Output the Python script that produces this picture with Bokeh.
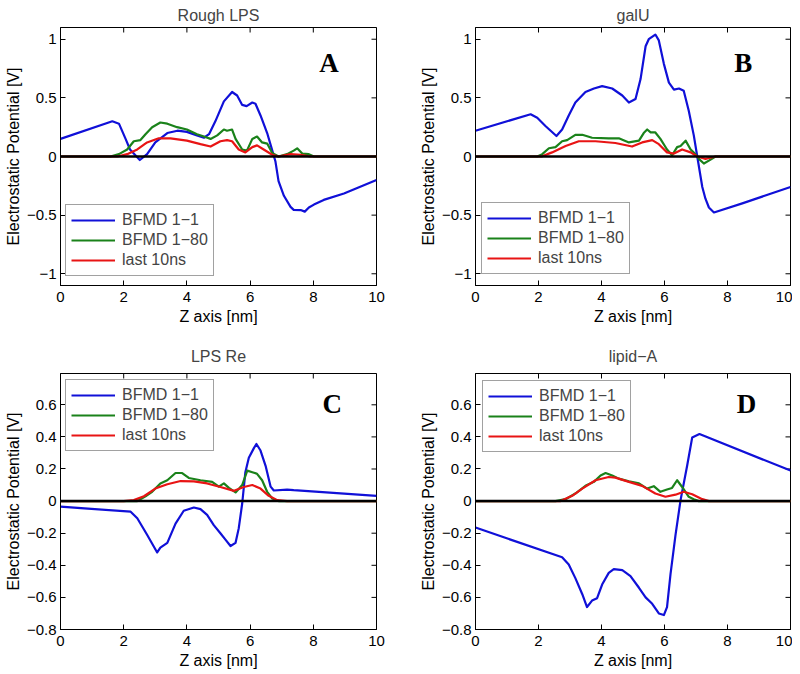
from bokeh.plotting import figure
from bokeh.models import (Range1d, FixedTicker, Span, Legend, LegendItem, Label)
from bokeh.layouts import column, row
from bokeh.embed import file_html
from bokeh.resources import INLINE

# ---------------- data ----------------
titles = ["Rough LPS", "galU", "LPS Re", "lipid\u2212A"]
letters = ["A", "B", "C", "D"]
series_names = ["BFMD 1\u22121", "BFMD 1\u221280", "last 10ns"]
x_ticks = [0, 2, 4, 6, 8, 10]
y_ticks_top = [-1, -0.5, 0, 0.5, 1]
y_ticks_bottom = [-0.8, -0.6, -0.4, -0.2, 0, 0.2, 0.4, 0.6]

# Panel A : Rough LPS
A_blue_x = [0, 1.64, 1.85, 2.06, 2.2, 2.51, 2.74, 3.0, 3.38, 3.7, 4.0, 4.32, 4.54, 4.7, 4.9, 5.17, 5.43, 5.59, 5.75, 5.89, 6.07, 6.17, 6.33, 6.54, 6.67, 6.8, 6.9, 7.07, 7.28, 7.38, 7.6, 7.73, 7.86, 8.02, 8.33, 8.97, 10]
A_blue_y = [0.15, 0.30, 0.28, 0.15, 0.06, -0.03, 0.02, 0.12, 0.20, 0.22, 0.21, 0.18, 0.16, 0.19, 0.30, 0.47, 0.55, 0.52, 0.44, 0.43, 0.46, 0.45, 0.35, 0.20, 0.08, -0.04, -0.21, -0.335, -0.43, -0.455, -0.457, -0.47, -0.435, -0.41, -0.37, -0.315, -0.20]
A_green_x = [0, 1.58, 1.85, 2.11, 2.32, 2.53, 2.69, 2.9, 3.16, 3.38, 3.69, 4.0, 4.32, 4.54, 4.75, 4.96, 5.17, 5.27, 5.43, 5.54, 5.75, 5.9, 6.07, 6.22, 6.38, 6.54, 6.7, 6.9, 7.17, 7.38, 7.49, 7.65, 7.86, 8.02, 10]
A_green_y = [0, 0, 0.02, 0.06, 0.13, 0.14, 0.19, 0.25, 0.29, 0.28, 0.25, 0.23, 0.19, 0.17, 0.15, 0.18, 0.23, 0.22, 0.23, 0.15, 0.06, 0.05, 0.15, 0.17, 0.12, 0.11, 0.03, 0, 0.02, 0.05, 0.07, 0.025, 0.02, 0, 0]
A_red_x = [0, 1.8, 2.11, 2.43, 2.74, 3.11, 3.48, 4.0, 4.43, 4.75, 5.06, 5.27, 5.43, 5.64, 5.85, 6.07, 6.22, 6.43, 6.7, 6.9, 7.28, 7.6, 7.9, 10]
A_red_y = [0, 0, 0.02, 0.06, 0.12, 0.155, 0.155, 0.135, 0.105, 0.085, 0.13, 0.14, 0.13, 0.06, 0.035, 0.08, 0.095, 0.06, 0.015, 0, 0.02, 0.015, 0, 0]

# Panel B : galU
B_blue_x = [0, 1.75, 1.96, 2.22, 2.57, 2.75, 2.96, 3.17, 3.49, 3.76, 4.02, 4.34, 4.66, 4.87, 5.08, 5.24, 5.4, 5.5, 5.71, 5.82, 5.98, 6.14, 6.3, 6.46, 6.61, 6.77, 6.93, 7.04, 7.2, 7.3, 7.41, 7.57, 8.47, 10]
B_blue_y = [0.22, 0.36, 0.33, 0.26, 0.175, 0.23, 0.35, 0.46, 0.55, 0.58, 0.60, 0.58, 0.52, 0.46, 0.49, 0.66, 0.94, 1.00, 1.04, 0.99, 0.79, 0.63, 0.57, 0.58, 0.56, 0.39, 0.18, 0, -0.26, -0.36, -0.435, -0.477, -0.40, -0.26]
B_green_x = [0, 1.96, 2.12, 2.33, 2.54, 2.75, 2.91, 3.17, 3.39, 3.7, 4.23, 4.55, 4.87, 5.19, 5.34, 5.45, 5.56, 5.71, 5.87, 6.08, 6.24, 6.4, 6.51, 6.67, 6.83, 6.98, 7.09, 7.25, 7.41, 7.62, 10]
B_green_y = [0, 0, 0.02, 0.07, 0.08, 0.13, 0.14, 0.185, 0.185, 0.16, 0.155, 0.155, 0.12, 0.135, 0.20, 0.23, 0.205, 0.205, 0.15, 0.06, 0.01, 0.08, 0.09, 0.135, 0.06, 0.02, -0.02, -0.06, -0.035, 0, 0]
B_red_x = [0, 2.1, 2.43, 2.86, 3.28, 3.81, 4.44, 4.97, 5.29, 5.61, 5.82, 6.08, 6.3, 6.56, 6.83, 7.04, 7.3, 7.62, 10]
B_red_y = [0, 0, 0.035, 0.09, 0.13, 0.13, 0.115, 0.085, 0.12, 0.14, 0.105, 0.035, 0.025, 0.06, 0.035, 0, -0.02, 0, 0]

# Panel C : LPS Re
C_blue_x = [0, 2.22, 2.43, 2.74, 3.06, 3.16, 3.38, 3.64, 3.9, 4.22, 4.43, 4.64, 4.85, 5.06, 5.22, 5.38, 5.54, 5.64, 5.75, 5.85, 5.96, 6.12, 6.2, 6.33, 6.49, 6.65, 6.75, 7.17, 7.38, 10]
C_blue_y = [-0.035, -0.066, -0.107, -0.21, -0.32, -0.29, -0.26, -0.14, -0.06, -0.04, -0.05, -0.086, -0.15, -0.2, -0.24, -0.28, -0.26, -0.17, -0.015, 0.18, 0.27, 0.33, 0.356, 0.315, 0.22, 0.09, 0.066, 0.072, 0.068, 0.033]
C_green_x = [0, 2.43, 2.69, 2.9, 3.16, 3.38, 3.64, 3.85, 4.06, 4.43, 4.8, 5.01, 5.17, 5.33, 5.54, 5.75, 5.91, 6.07, 6.22, 6.38, 6.54, 6.7, 6.9, 10]
C_green_y = [0, 0, 0.03, 0.058, 0.11, 0.13, 0.175, 0.175, 0.144, 0.13, 0.12, 0.09, 0.11, 0.082, 0.054, 0.1, 0.19, 0.18, 0.17, 0.13, 0.058, 0.016, 0, 0]
C_red_x = [0, 2.0, 2.32, 2.64, 3.0, 3.38, 3.8, 4.22, 4.64, 5.06, 5.49, 5.8, 6.07, 6.33, 6.59, 6.86, 7.17, 10]
C_red_y = [0, 0, 0.006, 0.03, 0.078, 0.105, 0.125, 0.123, 0.11, 0.088, 0.064, 0.088, 0.1, 0.078, 0.033, 0.006, 0, 0]

# Panel D : lipid-A
D_blue_x = [0, 2.75, 2.96, 3.17, 3.39, 3.54, 3.7, 3.86, 4.02, 4.23, 4.39, 4.66, 4.92, 5.19, 5.4, 5.61, 5.82, 5.98, 6.08, 6.19, 6.35, 6.51, 6.72, 6.88, 7.11, 10]
D_blue_y = [-0.165, -0.35, -0.395, -0.48, -0.58, -0.66, -0.62, -0.605, -0.52, -0.447, -0.424, -0.43, -0.467, -0.54, -0.60, -0.64, -0.70, -0.71, -0.66, -0.457, -0.21, 0.006, 0.222, 0.397, 0.418, 0.19]
D_green_x = [0, 2.54, 2.86, 3.17, 3.49, 3.76, 3.97, 4.13, 4.34, 4.55, 4.87, 5.19, 5.45, 5.66, 5.87, 6.08, 6.24, 6.4, 6.56, 6.77, 6.93, 7.09, 10]
D_green_y = [0, 0, 0.012, 0.047, 0.095, 0.12, 0.16, 0.175, 0.16, 0.14, 0.123, 0.11, 0.078, 0.093, 0.058, 0.072, 0.082, 0.13, 0.088, 0.027, 0.012, 0, 0]
D_red_x = [0, 2.7, 3.07, 3.39, 3.81, 4.23, 4.44, 4.87, 5.29, 5.71, 6.03, 6.35, 6.61, 6.88, 7.2, 7.41, 10]
D_red_y = [0, 0, 0.033, 0.078, 0.13, 0.15, 0.146, 0.12, 0.095, 0.047, 0.027, 0.04, 0.058, 0.043, 0.012, 0, 0]

COLORS = ["#1010d8", "#1a821a", "#e81414"]
SANS = "Liberation Sans"


def fmt(t):
    return ("%g" % t).replace("-", "\u2212")


def style_axis(ax, ticks):
    ax.ticker = FixedTicker(ticks=ticks)
    ax.major_tick_in = 5
    ax.major_tick_out = 0
    ax.minor_tick_line_color = None
    ax.axis_line_color = "black"
    ax.major_tick_line_color = "black"
    ax.major_label_overrides = {float(t): fmt(t) for t in ticks}
    ax.major_label_text_font = SANS
    ax.major_label_text_font_size = "15px"
    ax.major_label_text_color = "black"
    ax.axis_label_text_font = SANS
    ax.axis_label_text_font_size = "16px"
    ax.axis_label_text_font_style = "normal"
    ax.axis_label_text_color = "black"


def panel(idx, data, yr, yticks, letter_pos, legend_loc, w, h, borders, title_standoff):
    bl, br, bt, bb = borders
    p = figure(width=w, height=h, x_range=Range1d(0, 10), y_range=Range1d(*yr),
               output_backend="svg", toolbar_location=None,
               min_border_left=bl, min_border_right=br, min_border_top=bt, min_border_bottom=bb)
    p.title.text = titles[idx]
    p.title.align = "center"
    p.title.text_font = SANS
    p.title.text_font_size = "16px"
    p.title.text_font_style = "normal"
    p.title.standoff = title_standoff
    p.title.text_line_height = 1.0
    p.xgrid.grid_line_color = None
    p.ygrid.grid_line_color = None
    p.outline_line_color = "black"
    p.outline_line_alpha = 1
    p.background_fill_color = "white"
    p.border_fill_color = "white"

    style_axis(p.xaxis[0], x_ticks)
    style_axis(p.yaxis[0], yticks)
    p.xaxis.axis_label = "Z axis [nm]"
    p.yaxis.axis_label = "Electrostatic Potential [V]"
    p.xaxis.major_label_standoff = 6
    p.xaxis.axis_label_standoff = 3
    p.yaxis.major_label_standoff = 4
    p.yaxis.axis_label_standoff = 2

    # inward ticks on the top and right edges of the box (half of each dash is clipped)
    p.scatter(x_ticks, [yr[1]] * len(x_ticks), marker="dash", angle=1.5708, size=10,
              line_color="black", line_width=1)
    p.scatter([10] * len(yticks), yticks, marker="dash", size=10,
              line_color="black", line_width=1)

    renderers = []
    for (xs, ys), c in zip(data, COLORS):
        r = p.line(xs, ys, line_color=c, line_width=2.2, line_join="round")
        renderers.append(r)

    p.add_layout(Span(location=0, dimension="width", line_color="black", line_width=2.5))

    legend = Legend(items=[LegendItem(label=n, renderers=[r]) for n, r in zip(series_names, renderers)],
                    location=legend_loc)
    legend.label_text_font = SANS
    legend.label_text_font_size = "16px"
    legend.glyph_width = 44
    legend.glyph_height = 20
    legend.label_height = 20
    legend.label_standoff = 7
    legend.spacing = 0
    legend.padding = 5
    legend.margin = 0
    legend.border_line_color = "#444444"
    legend.border_line_width = 1
    legend.background_fill_alpha = 1
    p.add_layout(legend)

    p.add_layout(Label(x=letter_pos[0], y=letter_pos[1], text=letters[idx],
                       text_font="Liberation Serif", text_font_style="bold",
                       text_font_size="27px", text_align="center",
                       text_baseline="alphabetic", text_color="black"))
    return p


pA = panel(0, [(A_blue_x, A_blue_y), (A_green_x, A_green_y), (A_red_x, A_red_y)],
           (-1.1, 1.1), y_ticks_top, (8.5, 0.795), (5, 9), 415, 329, (60, 39, 27, 44), 8)
pB = panel(1, [(B_blue_x, B_blue_y), (B_green_x, B_green_y), (B_red_x, B_red_y)],
           (-1.1, 1.1), y_ticks_top, (8.5, 0.795), (6, 11), 377, 329, (60, 2, 27, 44), 8)
pC = panel(2, [(C_blue_x, C_blue_y), (C_green_x, C_green_y), (C_red_x, C_red_y)],
           (-0.8, 0.795), y_ticks_bottom, (8.6, 0.605), (5, 178), 415, 342, (60, 39, 44, 40), 17)
pD = panel(3, [(D_blue_x, D_blue_y), (D_green_x, D_green_y), (D_red_x, D_red_y)],
           (-0.8, 0.795), y_ticks_bottom, (8.6, 0.605), (7, 177), 377, 342, (60, 2, 44, 40), 17)

layout = column(row(pA, pB), row(pC, pD))

with open("out.html", "w") as f:
    f.write(file_html(layout, INLINE))
